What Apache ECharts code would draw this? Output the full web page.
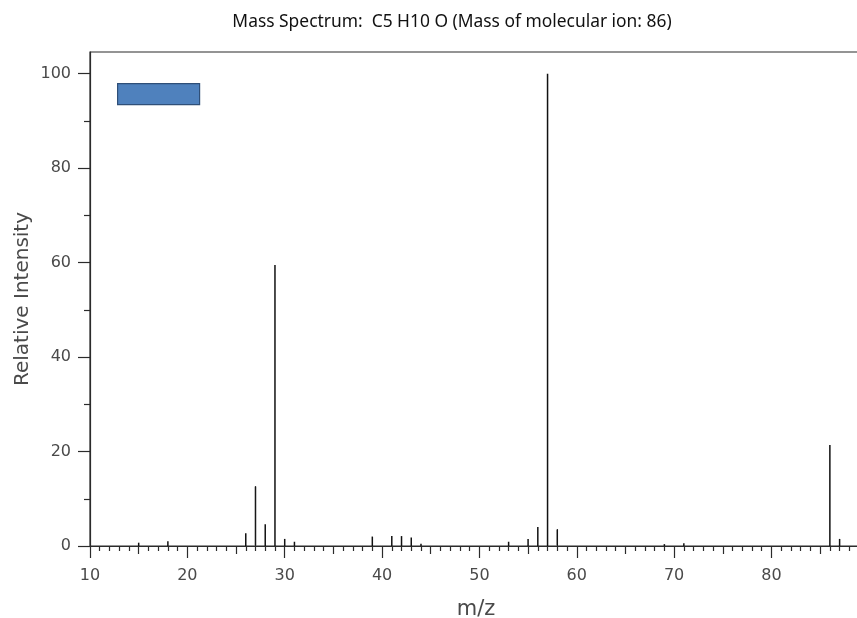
<!DOCTYPE html>
<html>
<head>
<meta charset="utf-8">
<style>
  html, body { margin: 0; padding: 0; background: #fff; }
  #chart { width: 857px; height: 618px; }
</style>
<script src="https://cdn.jsdelivr.net/npm/echarts@6/dist/echarts.min.js"></script>
</head>
<body>
<div id="chart"></div>
<script>
// peaks (m/z, relative intensity)
const mz = [15, 18, 26, 27, 28, 29, 30, 31, 39, 41, 42, 43, 44, 53, 55, 56, 57, 58, 69, 71, 86, 87];
const intensity = [0.7, 1.0, 2.7, 12.7, 4.6, 59.5, 1.5, 0.9, 2.0, 2.1, 2.1, 1.8, 0.5, 0.9, 1.5, 4.0, 100, 3.6, 0.4, 0.6, 21.4, 1.5];

const xLabels = [10, 20, 30, 40, 50, 60, 70, 80];
const xMidTicks = [15, 25, 35, 45, 55, 65, 75, 85];
const xMinorTicks = [11, 12, 13, 14, 16, 17, 18, 19, 21, 22, 23, 24, 26, 27, 28, 29,
  31, 32, 33, 34, 36, 37, 38, 39, 41, 42, 43, 44, 46, 47, 48, 49,
  51, 52, 53, 54, 56, 57, 58, 59, 61, 62, 63, 64, 66, 67, 68, 69,
  71, 72, 73, 74, 76, 77, 78, 79, 81, 82, 83, 84, 86, 87, 88];
const yLabels = [0, 20, 40, 60, 80, 100];
const yMinorTicks = [10, 30, 50, 70, 90];

const X_MIN = 10, X_MAX = 89.3;
const Y_MIN = 0, Y_MAX = 104.6;

const lineColor = '#2b2b2b';
const labelColor = '#4a4a4a';
const axisFont = '"DejaVu Sans", Verdana, sans-serif';
const heavy = new Set([27, 58]);

const chart = echarts.init(document.getElementById('chart'));

function tickAxis(values, len) {
  return {
    type: 'value',
    position: 'bottom',
    min: X_MIN,
    max: X_MAX,
    axisLine: { show: false, onZero: false },
    splitLine: { show: false },
    axisLabel: { show: false },
    axisTick: {
      show: true,
      inside: false,
      length: len,
      customValues: values,
      lineStyle: { color: lineColor, width: 1.2 },
    },
  };
}

chart.setOption({
  animation: false,
  backgroundColor: '#fff',
  title: {
    text: 'Mass Spectrum:  C5 H10 O (Mass of molecular ion: 86)',
    left: 447,
    textAlign: 'center',
    top: 9,
    textStyle: { fontFamily: 'Noto Sans', fontSize: 17.4, fontWeight: 'normal', color: '#111' },
  },
  legend: {
    left: 117,
    top: 83,
    padding: 0,
    itemWidth: 82,
    itemHeight: 21,
    icon: 'rect',
    formatter: () => '',
    itemStyle: { color: '#4f81bd', borderColor: '#2f4f78', borderWidth: 1.2 },
    selectedMode: false,
  },
  grid: {
    left: 90,
    right: -5,
    top: 52,
    bottom: 72,
    outerBoundsMode: 'none',
    containLabel: false,
    show: true,
    borderColor: lineColor,
    borderWidth: 1.2,
  },
  xAxis: [
    {
      type: 'value',
      position: 'bottom',
      min: X_MIN,
      max: X_MAX,
      name: 'm/z',
      nameLocation: 'middle',
      nameGap: 53,
      nameTextStyle: { fontFamily: axisFont, fontSize: 21, color: labelColor },
      axisLine: { show: true, onZero: false, lineStyle: { color: lineColor, width: 1.2 } },
      splitLine: { show: false },
      axisTick: {
        show: true,
        inside: false,
        length: 12,
        customValues: xLabels,
        lineStyle: { color: lineColor, width: 1.2 },
      },
      axisLabel: {
        customValues: xLabels,
        margin: 22,
        fontFamily: axisFont,
        fontSize: 16,
        color: labelColor,
      },
    },
    tickAxis(xMidTicks, 8),
    tickAxis(xMinorTicks, 5),
  ],
  yAxis: [
    {
      type: 'value',
      min: Y_MIN,
      max: Y_MAX,
      name: 'Relative Intensity',
      nameLocation: 'middle',
      nameGap: 57,
      nameMoveOverlap: false,
      nameTextStyle: { fontFamily: axisFont, fontSize: 20, color: labelColor },
      axisLine: { show: true, lineStyle: { color: lineColor, width: 1.2 } },
      splitLine: { show: false },
      axisTick: {
        show: true,
        length: 12,
        customValues: yLabels,
        lineStyle: { color: lineColor, width: 1.2 },
      },
      axisLabel: {
        customValues: yLabels,
        margin: 19,
        fontFamily: axisFont,
        fontSize: 16,
        color: labelColor,
      },
    },
    {
      type: 'value',
      position: 'left',
      min: Y_MIN,
      max: Y_MAX,
      axisLine: { show: false },
      splitLine: { show: false },
      axisLabel: { show: false },
      axisTick: {
        show: true,
        length: 6,
        customValues: yMinorTicks,
        lineStyle: { color: lineColor, width: 1.2 },
      },
    },
  ],
  series: [
    {
      name: 'C5 H10 O',
      type: 'bar',
      xAxisIndex: 0,
      yAxisIndex: 0,
      barWidth: 1.5,
      itemStyle: { color: '#111' },
      data: mz.map((m, i) => {
        const item = { value: [m, intensity[i]] };
        if (heavy.has(m)) item.itemStyle = { borderColor: '#111', borderWidth: 1 };
        return item;
      }),
    },
  ],
});
</script>
</body>
</html>
